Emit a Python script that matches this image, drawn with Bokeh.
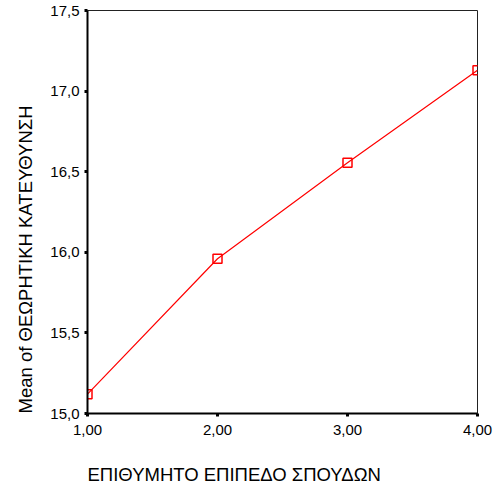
from bokeh.plotting import figure
from bokeh.models import Range1d, FixedTicker, CustomJSTickFormatter, Title
from bokeh.embed import file_html
from bokeh.resources import INLINE

# Data
levels = [1.0, 2.0, 3.0, 4.0]
means = [15.12, 15.96, 16.555, 17.13]
x_ticks = [1, 2, 3, 4]
y_ticks = [15.0, 15.5, 16.0, 16.5, 17.0, 17.5]
x_title = "ΕΠΙΘΥΜΗΤΟ ΕΠΙΠΕΔΟ ΣΠΟΥΔΩΝ"
y_title = "Mean of ΘΕΩΡΗΤΙΚΗ ΚΑΤΕΥΘΥΝΣΗ"

FONT = "Liberation Sans"

p = figure(width=494, height=486, output_backend="svg", toolbar_location=None,
           x_range=Range1d(1, 4), y_range=Range1d(15, 17.5),
           min_border_left=87, min_border_top=10, min_border_right=17, min_border_bottom=73)

p.grid.visible = False
p.background_fill_color = "white"
p.border_fill_color = "white"
p.outline_line_color = "#222222"
p.outline_line_width = 1

p.line(levels, means, line_color="#ff0000", line_width=1.2)
p.scatter(levels, means, marker="square", size=9, fill_color=None,
          line_color="#ff0000", line_width=1.5)

for ax in (p.xaxis[0], p.yaxis[0]):
    ax.axis_line_color = "black"
    ax.axis_line_width = 2
    ax.major_tick_line_color = "black"
    ax.major_tick_line_width = 3
    ax.major_tick_out = 3
    ax.major_tick_in = 0
    ax.minor_tick_line_color = None
    ax.major_label_text_font = FONT
    ax.major_label_text_font_size = "15px"
    ax.major_label_text_color = "black"

p.xaxis.ticker = FixedTicker(ticks=x_ticks)
p.yaxis.ticker = FixedTicker(ticks=y_ticks)
p.xaxis.formatter = CustomJSTickFormatter(code="return tick.toFixed(2).replace('.', ',');")
p.yaxis.formatter = CustomJSTickFormatter(code="return tick.toFixed(1).replace('.', ',');")
p.xaxis.major_label_standoff = 8
p.yaxis.major_label_standoff = 5

# spacer between x tick labels and the x title
p.xaxis.axis_label = " "
p.xaxis.axis_label_text_font_size = "1px"
p.xaxis.axis_label_standoff = 20

p.add_layout(Title(text=x_title, align="left", text_font=FONT, text_font_size="18.5px",
                   text_font_style="normal", text_color="black", standoff=0), "below")
p.add_layout(Title(text=y_title, align="left", text_font=FONT, text_font_size="18.5px",
                   text_font_style="normal", text_color="black", standoff=23), "left")

open("out.html", "w").write(file_html(p, INLINE))
